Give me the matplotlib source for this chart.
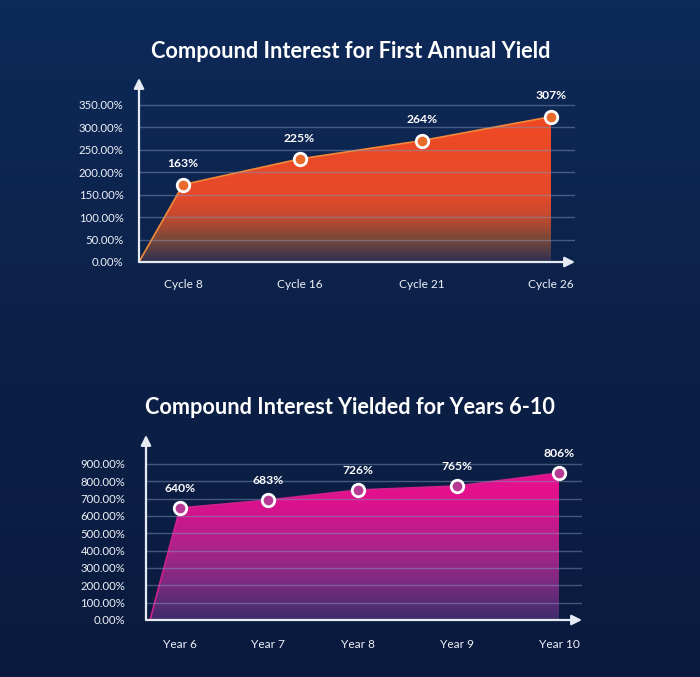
import numpy as np
import matplotlib
matplotlib.use("Agg")
import matplotlib.pyplot as plt
from matplotlib.colors import LinearSegmentedColormap

plt.rcParams['font.family'] = ['Lato', 'DejaVu Sans']

# chart 1 data
cycles = ['Cycle 8', 'Cycle 16', 'Cycle 21', 'Cycle 26']
cycle_pos = [1.0, 1.95, 2.95, 4.0]
cycle_vals = [172, 229, 270, 323]          # marker heights as drawn
cycle_labels = ['163%', '225%', '264%', '307%']
yticks1 = [0, 50, 100, 150, 200, 250, 300, 350]

# chart 2 data
years = ['Year 6', 'Year 7', 'Year 8', 'Year 9', 'Year 10']
year_pos = [1.0, 1.93, 2.88, 3.92, 5.0]
year_vals = [646, 692, 750, 773, 848]
year_labels = ['640%', '683%', '726%', '765%', '806%']
yticks2 = [0, 100, 200, 300, 400, 500, 600, 700, 800, 900]

W, H = 700, 677
fig = plt.figure(figsize=(7, 6.77), dpi=100)

# background gradient
bg = fig.add_axes([0, 0, 1, 1])
bg_cmap = LinearSegmentedColormap.from_list('bg', ['#0a1a3e', '#0c2148', '#0e2a59'])
bg.imshow(np.linspace(0, 1, 256).reshape(-1, 1), aspect='auto', cmap=bg_cmap,
          origin='lower', extent=[0, 1, 0, 1])
bg.axis('off')

TXT = '#eef1f7'
GRID = '#7f92b8'


def px_axes(x0, y0, x1, y1):
    # pixel box (left, top, right, bottom) -> figure fraction
    return fig.add_axes([x0 / W, 1 - y1 / H, (x1 - x0) / W, (y1 - y0) / H])


def draw_chart(ax, pos, vals, labels, cats, yticks, xlim, ylim, cmap, edge,
               mface, lab_off, tick_pad_y, tick_pad_x, start_x):
    ax.set_xlim(*xlim)
    ax.set_ylim(*ylim)
    ax.patch.set_alpha(0)
    for s in ax.spines.values():
        s.set_visible(False)

    xs = [start_x] + list(pos)
    ys = [0] + list(vals)
    poly = ax.fill_between(xs, ys, 0, color='none', lw=0)
    img = ax.imshow(np.linspace(0, 1, 256).reshape(-1, 1), aspect='auto', cmap=cmap,
                    origin='lower', extent=[xlim[0], xlim[1], 0, max(vals)], zorder=1)
    img.set_clip_path(poly.get_paths()[0], transform=ax.transData)
    ax.plot(xs, ys, color=edge, lw=1.2, zorder=2)

    for t in yticks[1:]:
        ax.plot([xlim[0], xlim[1]], [t, t], color=GRID, lw=1, alpha=0.5, zorder=3)

    ax.plot(pos, vals, 'o', ms=9, mfc=mface, mec='white', mew=2, zorder=5)
    for x, v, l in zip(pos, vals, labels):
        ax.annotate(l, (x, v), xytext=(0, lab_off), textcoords='offset points',
                    ha='center', va='center', color='white', fontsize=8.7,
                    fontweight='bold', zorder=6)

    # axes with arrows
    ax.annotate('', xy=(xlim[1], 0), xytext=(xlim[0], 0),
                arrowprops=dict(arrowstyle='-|>,head_length=0.6,head_width=0.3',
                                color='#e6eaf3', lw=1.6, shrinkA=0, shrinkB=0),
                annotation_clip=False, zorder=7)
    ax.annotate('', xy=(xlim[0], ylim[1]), xytext=(xlim[0], 0),
                arrowprops=dict(arrowstyle='-|>,head_length=0.6,head_width=0.3',
                                color='#e6eaf3', lw=1.6, shrinkA=0, shrinkB=0),
                annotation_clip=False, zorder=7)

    ax.set_yticks(yticks)
    ax.set_yticklabels(['%.2f%%' % t for t in yticks])
    ax.set_xticks(pos)
    ax.set_xticklabels(cats)
    ax.tick_params(axis='y', length=0, pad=tick_pad_y, colors=TXT, labelsize=8.2)
    ax.tick_params(axis='x', length=0, pad=tick_pad_x, colors=TXT, labelsize=8.6)


# chart 1
ax1 = px_axes(139, 78, 575, 262)
cmap1 = LinearSegmentedColormap.from_list('c1', [
    (0.0, '#2c3052'), (0.155, '#7a4838'), (0.31, '#c44a30'),
    (0.46, '#e6492a'), (1.0, '#ef4a24')])
u1 = 122.67
draw_chart(ax1, cycle_pos, cycle_vals, cycle_labels, cycles, yticks1,
           (1 - 44 / u1, 4 + 24 / u1), (0, 409), cmap1, '#f2893a', '#ea6a2a',
           15, 11, 12, 1 - 44 / u1)
fig.text(351 / W, 1 - 52 / H, 'Compound Interest for First Annual Yield',
         ha='center', va='center', color='white', fontsize=15.7, fontweight='bold')

# chart 2
ax2 = px_axes(146, 435, 582, 620)
cmap2 = LinearSegmentedColormap.from_list('c2', [
    (0.0, '#3d2c6a'), (0.24, '#7a2a80'), (0.47, '#a8238a'),
    (0.71, '#d0158c'), (0.85, '#e3108e'), (1.0, '#e5108e')])
u2 = 94.75
draw_chart(ax2, year_pos, year_vals, year_labels, years, yticks2,
           (1 - 34 / u2, 5 + 23 / u2), (0, 1067), cmap2, '#d0208c', '#b43a94',
           14, 15, 14, 1 - 30 / u2)
fig.text(350 / W, 1 - 408 / H, 'Compound Interest Yielded for Years 6-10',
         ha='center', va='center', color='white', fontsize=15.6, fontweight='bold')

fig.savefig('out.png', dpi=100)
